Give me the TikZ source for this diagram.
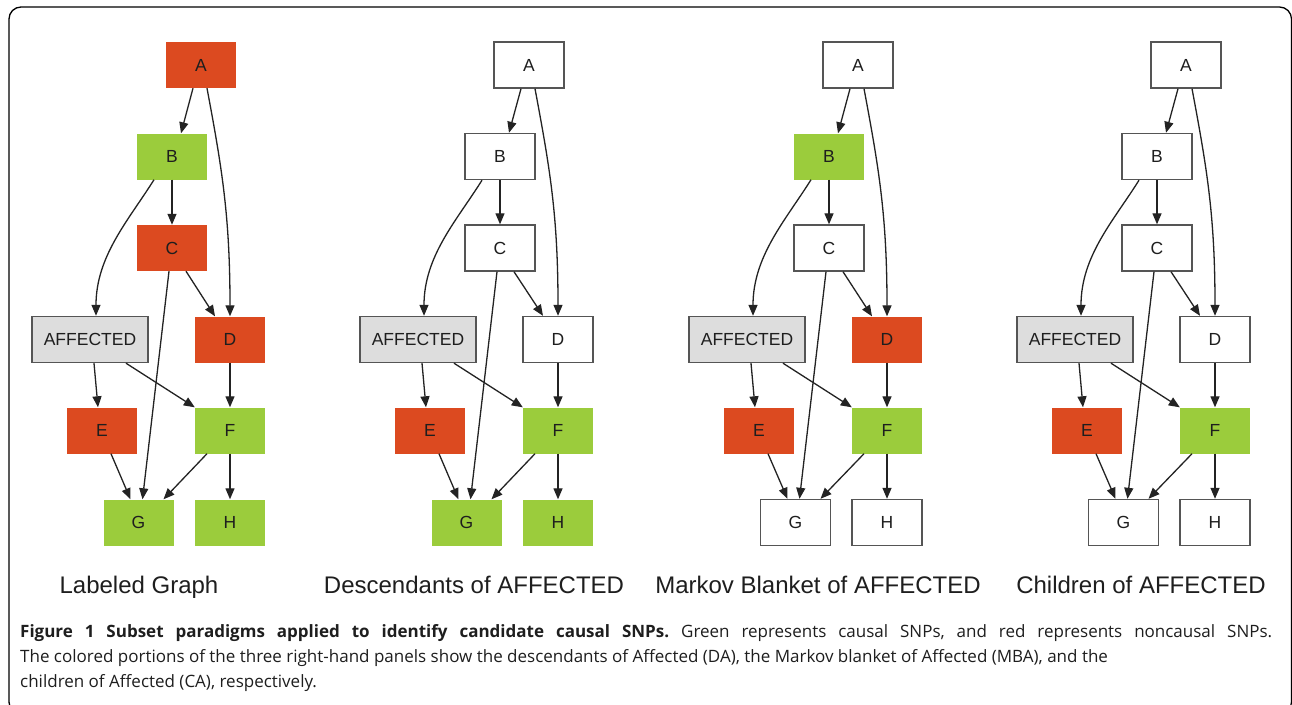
\documentclass[tikz,border=0pt]{standalone}
\usepackage{fontspec}
\setmainfont{Liberation Sans}
\newfontfamily\capfont{Open Sans}
\usetikzlibrary{arrows.meta}
\definecolor{nred}{RGB}{220,74,32}
\definecolor{ngreen}{RGB}{155,204,60}
\definecolor{ngray}{RGB}{221,221,221}
\definecolor{edgec}{RGB}{35,35,35}
\definecolor{bordc}{RGB}{85,85,85}
\definecolor{txtc}{RGB}{30,30,30}
\tikzset{
  box/.style={rectangle, minimum width=70pt, minimum height=46pt, inner sep=0pt,
    font=\fontsize{17.5}{17.5}\selectfont, text=txtc},
  redbox/.style={box, fill=nred},
  greenbox/.style={box, fill=ngreen},
  whitebox/.style={box, draw=bordc, line width=1.4pt, fill=white},
  affbox/.style={box, minimum width=116pt, draw=bordc, line width=1.4pt, fill=ngray},
  edge/.style={draw=edgec, line width=1.3pt, -{Triangle[length=11pt,width=9pt]}},
  paneltitle/.style={anchor=base, font=\fontsize{24}{24}\selectfont, text=txtc, inner sep=0pt},
  capline/.style={anchor=base west, inner sep=0pt, text=txtc, font=\capfont\fontsize{17}{17}\selectfont\frenchspacing}
}
\newcommand\drawpanel[9]{%
  \begin{scope}[xshift=#1pt]
    \node[#2] (A#1) at (201,65) {A};
    \node[#3] (B#1) at (172,156.5) {B};
    \node[#4] (C#1) at (172,248) {C};
    \node[#5] (D#1) at (230,339.5) {D};
    \node[affbox] (AFF#1) at (90,339.5) {AFFECTED};
    \node[#6] (E#1) at (102,430.5) {E};
    \node[#7] (F#1) at (230,430.5) {F};
    \node[#8] (G#1) at (138.5,522.5) {G};
    \node[#9] (H#1) at (230,522.5) {H};
  \end{scope}
  \draw[edge] ([xshift=-8pt]A#1.south) -- ([xshift=9pt]B#1.north);
  \draw[edge] ([xshift=6pt]A#1.south) .. controls +(15,80) and +(0,-100) .. (D#1.north);
  \draw[edge] (B#1.south) -- (C#1.north);
  \draw[edge] ([xshift=-18pt]B#1.south) .. controls +(-25,40) and +(0,-60) .. ([xshift=6pt]AFF#1.north);
  \draw[edge] ([xshift=14pt]C#1.south) -- ([xshift=-15pt]D#1.north);
  \draw[edge] ([xshift=-3pt]C#1.south) -- ([xshift=4pt]G#1.north);
  \draw[edge] ([xshift=4pt]AFF#1.south) -- ([xshift=-4pt]E#1.north);
  \draw[edge] ([xshift=36pt]AFF#1.south) -- (F#1.north west);
  \draw[edge] (D#1.south) -- (F#1.north);
  \draw[edge] ([xshift=9pt]E#1.south) -- ([xshift=-8pt]G#1.north);
  \draw[edge] ([xshift=-23pt]F#1.south) -- ([xshift=25pt]G#1.north);
  \draw[edge] (F#1.south) -- (H#1.north);
}
\begin{document}
\begin{tikzpicture}[x=1pt,y=-1pt]
  \useasboundingbox (0,0) rectangle (1292,704);
  \fill[white] (0,0) rectangle (1292,704);
  \draw[line width=1.3pt, rounded corners=12pt] (9,7) rectangle (1291.5,714);
  \drawpanel{0}{redbox}{greenbox}{redbox}{redbox}{redbox}{greenbox}{greenbox}{greenbox}
  \drawpanel{328}{whitebox}{whitebox}{whitebox}{whitebox}{redbox}{greenbox}{greenbox}{greenbox}
  \drawpanel{657}{whitebox}{greenbox}{whitebox}{redbox}{redbox}{greenbox}{whitebox}{whitebox}
  \drawpanel{985}{whitebox}{whitebox}{whitebox}{whitebox}{redbox}{greenbox}{whitebox}{whitebox}
  \node[paneltitle] (t1) at (139,593) {Labeled Graph};
  \node[paneltitle] (t2) at (474,593) {Descendants of AFFECTED};
  \node[paneltitle] (t3) at (818,593) {Markov Blanket of AFFECTED};
  \node[paneltitle] (t4) at (1141,593) {Children of AFFECTED};
  \node[capline] (c1) at (20,637) {\makebox[1252pt][s]{\bfseries Figure 1 Subset paradigms applied to identify candidate causal SNPs.\mdseries{} Green represents causal SNPs, and red represents noncausal SNPs.}};
  \node[capline] (c2) at (20,662) {The colored portions of the three right-hand panels show the descendants of Affected (DA), the Markov blanket of Affected (MBA), and the};
  \node[capline] (c3) at (20,687) {children of Affected (CA), respectively.};
\end{tikzpicture}
\end{document}
